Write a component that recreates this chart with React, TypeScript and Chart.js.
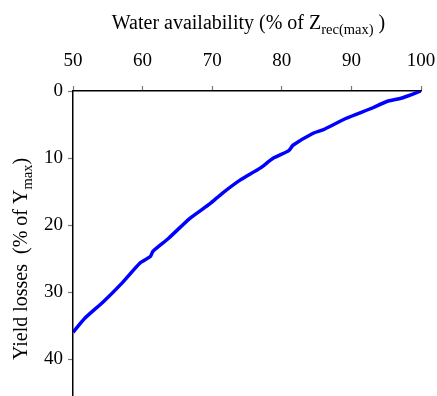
import { useEffect, useRef } from 'react';
import { Chart, registerables } from 'chart.js';

Chart.register(...registerables);

const waterAvailability = [50, 51.7, 54.4, 57.0, 59.6, 61.1, 61.5, 63.7, 66.8, 69.7, 71.4, 74.0, 76.9, 78.8, 81.0, 81.6, 84.5, 85.9, 89.2, 93.1, 95.0, 97.4, 100];
const yieldLosses = [36.0, 33.9, 31.4, 28.7, 25.7, 24.7, 23.9, 22.0, 19.0, 16.8, 15.3, 13.3, 11.5, 10.0, 8.9, 8.1, 6.3, 5.8, 4.1, 2.5, 1.6, 1.0, 0];
const xTicks = [50, 60, 70, 80, 90, 100];
const yTicks = [0, 10, 20, 30, 40];

const FONT = '"Liberation Serif", "Times New Roman", serif';

type Part = { text: string; size: number; dy: number };

function drawParts(ctx: CanvasRenderingContext2D, parts: Part[], cx: number, y: number) {
  let total = 0;
  for (const p of parts) {
    ctx.font = `${p.size}px ${FONT}`;
    total += ctx.measureText(p.text).width;
  }
  let x = cx - total / 2;
  ctx.textAlign = 'left';
  ctx.textBaseline = 'alphabetic';
  for (const p of parts) {
    ctx.font = `${p.size}px ${FONT}`;
    ctx.fillText(p.text, x, y + p.dy);
    x += ctx.measureText(p.text).width;
  }
}

const titlePlugin = {
  id: 'subTitles',
  afterDraw(chart: any) {
    const ctx: CanvasRenderingContext2D = chart.ctx;
    ctx.save();
    ctx.fillStyle = '#000';
    drawParts(ctx, [
      { text: 'Water availability (% of Z', size: 20, dy: 0 },
      { text: 'rec(max)', size: 14.5, dy: 4.5 },
      { text: ' )', size: 20, dy: 0 },
    ], 248.5, 29);
    ctx.translate(27, 259);
    ctx.rotate(-Math.PI / 2);
    drawParts(ctx, [
      { text: 'Yield losses  (% of Y', size: 20, dy: 0 },
      { text: 'max', size: 14.5, dy: 4.5 },
      { text: ')', size: 20, dy: 0 },
    ], 0, 0);
    ctx.restore();
  },
};

export default function App() {
  const ref = useRef<HTMLCanvasElement>(null);
  useEffect(() => {
    document.body.style.margin = '0';
    const canvas = ref.current!;
    const chart = new Chart(canvas, {
      type: 'line',
      data: {
        datasets: [
          {
            data: waterAvailability.map((x, i) => ({ x, y: yieldLosses[i] })),
            borderColor: '#0000FF',
            borderWidth: 3.5,
            pointRadius: 0,
            tension: 0.2,
            fill: false,
          },
        ],
      },
      options: {
        animation: false,
        responsive: false,
        layout: { padding: { right: 16, left: 0, top: 0, bottom: 0 } },
        plugins: { legend: { display: false }, tooltip: { enabled: false } },
        scales: {
          x: {
            type: 'linear',
            position: 'top',
            min: 50,
            max: 100,
            afterBuildTicks: (s: any) => { s.ticks = xTicks.map((v) => ({ value: v })); },
            afterFit: (s: any) => { s.height = 91; s.paddingLeft = 0; s.paddingRight = 0; },
            ticks: { font: { family: FONT, size: 19 }, color: '#000', padding: 14, maxRotation: 0 },
            grid: { drawOnChartArea: false, drawTicks: true, tickLength: 5, color: '#777', tickWidth: 1.2 },
            border: { display: true, color: '#000', width: 1.5 },
          },
          y: {
            type: 'linear',
            reverse: true,
            min: 0,
            max: 45.5,
            afterBuildTicks: (s: any) => { s.ticks = yTicks.map((v) => ({ value: v })); },
            afterFit: (s: any) => { s.width = 73; s.paddingTop = 0; s.paddingBottom = 0; },
            ticks: { font: { family: FONT, size: 19 }, color: '#000', padding: 5 },
            grid: { drawOnChartArea: false, drawTicks: true, tickLength: 5, color: '#777', tickWidth: 1.2 },
            border: { display: true, color: '#000', width: 1.5 },
          },
        },
      },
      plugins: [titlePlugin],
    });
    return () => chart.destroy();
  }, []);
  return (
    <div style={{ width: 437, height: 396 }}>
      <canvas ref={ref} width={437} height={396} />
    </div>
  );
}
